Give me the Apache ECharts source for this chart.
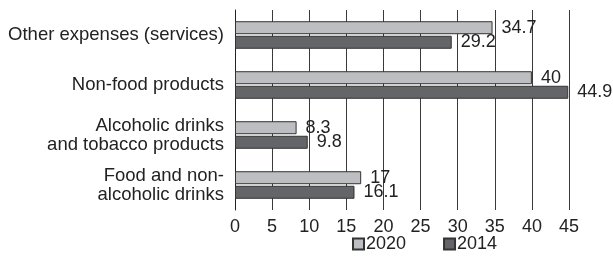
<!DOCTYPE html>
<html>
<head>
<meta charset="utf-8">
<script src="https://cdn.jsdelivr.net/npm/echarts@6/dist/echarts.min.js"></script>
<style>
  html, body { margin: 0; padding: 0; background: #fff; }
  #chart { width: 613px; height: 257px; }
</style>
</head>
<body>
<div id="chart"></div>
<script>
const categories = [
  'Other expenses (services)',
  'Non-food products',
  'Alcoholic drinks\nand tobacco products',
  'Food and non-\nalcoholic drinks'
];
const values2020 = [34.7, 40, 8.3, 17];
const values2014 = [29.2, 44.9, 9.8, 16.1];

const chart = echarts.init(document.getElementById('chart'));

const font = 'Liberation Sans, Arial, sans-serif';

const labelStyle = {
  show: true,
  position: 'right',
  distance: 9,
  color: '#222',
  fontFamily: font,
  fontSize: 18
};

chart.setOption({
  animation: false,
  textStyle: { fontFamily: font },
  grid: { left: 235, right: 44, top: 10, bottom: 47 },
  legend: {
    bottom: -1,
    left: 347,
    icon: 'rect',
    itemWidth: 11,
    itemHeight: 11,
    itemGap: 37,
    textStyle: { fontSize: 18, color: '#222', padding: [0, 0, 0, -3] },
    data: ['2020', '2014']
  },
  xAxis: {
    type: 'value',
    min: 0,
    max: 45,
    interval: 5,
    axisLine: { show: false },
    axisTick: { show: false },
    axisLabel: { fontSize: 18, color: '#222', margin: 8 },
    splitLine: { show: true, lineStyle: { color: '#3a3a3a', width: 1 } }
  },
  yAxis: {
    type: 'category',
    inverse: true,
    data: categories,
    axisLine: { show: true, lineStyle: { color: '#222', width: 1 } },
    axisTick: { show: false },
    axisLabel: { fontSize: 18.5, color: '#222', margin: 11, align: 'right', lineHeight: 19 }
  },
  series: [
    {
      name: '2020',
      type: 'bar',
      data: values2020,
      barWidth: 13,
      barGap: '12%',
      itemStyle: { color: '#bdbec1', borderColor: '#333', borderWidth: 1 },
      label: labelStyle
    },
    {
      name: '2014',
      type: 'bar',
      data: values2014,
      barWidth: 13,
      itemStyle: { color: '#646568', borderColor: '#333', borderWidth: 1 },
      label: labelStyle
    }
  ]
});
</script>
</body>
</html>
